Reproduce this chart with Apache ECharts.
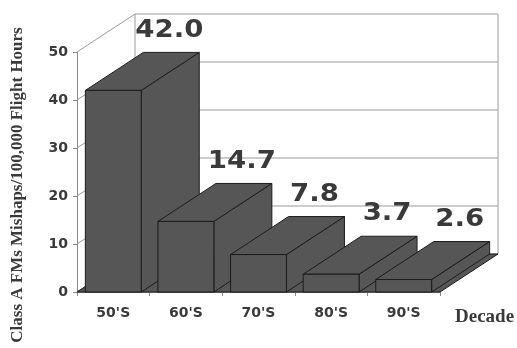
<!DOCTYPE html>
<html>
<head>
<meta charset="utf-8">
<style>
  html, body { margin: 0; padding: 0; background: #ffffff; }
  #chart { width: 517px; height: 348px; }
</style>
<script src="https://cdn.jsdelivr.net/npm/echarts@6/dist/echarts.min.js"></script>
</head>
<body>
<div id="chart"></div>
<script>
// Class A FM mishap rate per decade
const decades = ["50'S", "60'S", "70'S", "80'S", "90'S"];
const mishapRates = [42.0, 14.7, 7.8, 3.7, 2.6];
const rateTicks = [0, 10, 20, 30, 40, 50];

// Pseudo-3D depth offset (pixels) and styling
const DEPTH_X = 58;
const DEPTH_Y = -38;
const BAR_RATIO = 0.77;
const BAR_FILL = '#565656';
const EDGE = '#1c1c1c';
const WALL_LINE = '#9a9a9a';

const chart = echarts.init(document.getElementById('chart'), null, { renderer: 'canvas' });

// Back wall, side wall and floor of the box, placed with the axis scales
function renderWalls(params, api) {
  const band = api.size([1, 0])[0];
  const n = decades.length;
  const xL = api.coord([0, 0])[0] - band / 2;
  const xR = api.coord([n - 1, 0])[0] + band / 2;
  const yMax = rateTicks[rateTicks.length - 1];
  const yBase = api.coord([0, 0])[1];
  const yTop = api.coord([0, yMax])[1];
  const children = [];

  // back wall
  children.push({
    type: 'rect',
    shape: { x: xL + DEPTH_X, y: yTop + DEPTH_Y, width: xR - xL, height: yBase - yTop },
    style: { fill: '#ffffff', stroke: WALL_LINE, lineWidth: 1 }
  });
  // gridlines on back wall and side wall
  rateTicks.forEach(function (t) {
    const y = api.coord([0, t])[1];
    if (t > 0 && t < yMax) {
      children.push({
        type: 'line',
        shape: { x1: xL + DEPTH_X, y1: y + DEPTH_Y, x2: xR + DEPTH_X, y2: y + DEPTH_Y },
        style: { stroke: WALL_LINE, lineWidth: 1 }
      });
    }
    children.push({
      type: 'line',
      shape: { x1: xL, y1: y, x2: xL + DEPTH_X, y2: y + DEPTH_Y },
      style: { stroke: WALL_LINE, lineWidth: 1 }
    });
  });
  // floor
  children.push({
    type: 'polygon',
    shape: { points: [[xL, yBase], [xR, yBase], [xR + DEPTH_X, yBase + DEPTH_Y], [xL + DEPTH_X, yBase + DEPTH_Y]] },
    style: { fill: BAR_FILL, stroke: EDGE, lineWidth: 1 }
  });
  return { type: 'group', children: children };
}

// One box-shaped bar per decade with its value label
function renderBar(params, api) {
  const idx = api.value(0);
  const val = api.value(1);
  const base = api.coord([idx, 0]);
  const top = api.coord([idx, val]);
  const band = api.size([1, 0])[0];
  const w = band * BAR_RATIO;
  const x0 = base[0] - w / 2;
  const x1 = x0 + w;
  const y0 = base[1];
  const y1 = top[1];
  const edgeStyle = { fill: BAR_FILL, stroke: EDGE, lineWidth: 1 };
  return {
    type: 'group',
    children: [
      {
        type: 'polygon',
        shape: { points: [[x1, y1], [x1 + DEPTH_X, y1 + DEPTH_Y], [x1 + DEPTH_X, y0 + DEPTH_Y], [x1, y0]] },
        style: edgeStyle
      },
      {
        type: 'polygon',
        shape: { points: [[x0, y1], [x1, y1], [x1 + DEPTH_X, y1 + DEPTH_Y], [x0 + DEPTH_X, y1 + DEPTH_Y]] },
        style: edgeStyle
      },
      {
        type: 'rect',
        shape: { x: x0, y: y1, width: w, height: y0 - y1 },
        style: edgeStyle
      },
      {
        type: 'text',
        x: x0 + w / 2 + DEPTH_X - 2,
        y: y1 + DEPTH_Y - 22,
        scaleX: 1.15,
        style: {
          text: val.toFixed(1),
          font: 'bold 24px "DejaVu Sans"',
          fill: '#3a3a3a',
          textAlign: 'center',
          textVerticalAlign: 'middle'
        }
      }
    ]
  };
}

const labelStyle = {
  fontFamily: 'DejaVu Sans',
  fontWeight: 'bold',
  fontSize: 14,
  color: '#3a3a3a'
};

chart.setOption({
  animation: false,
  backgroundColor: '#ffffff',
  grid: { left: 77, right: 77, top: 52, bottom: 56 },
  xAxis: {
    type: 'category',
    data: decades,
    boundaryGap: true,
    axisLine: { lineStyle: { color: '#8a8a8a', width: 1 } },
    axisTick: { show: true, length: 4, lineStyle: { color: '#8a8a8a' } },
    axisLabel: Object.assign({ margin: 14 }, labelStyle),
    splitLine: { show: false }
  },
  yAxis: {
    type: 'value',
    min: rateTicks[0],
    max: rateTicks[rateTicks.length - 1],
    interval: 10,
    axisLine: { show: true, lineStyle: { color: '#8a8a8a', width: 1 } },
    axisTick: { show: true, length: 4, lineStyle: { color: '#8a8a8a' } },
    axisLabel: Object.assign({ margin: 9 }, labelStyle),
    splitLine: { show: false }
  },
  graphic: [
    {
      type: 'text',
      x: 18,
      y: 185,
      rotation: Math.PI / 2,
      style: {
        text: 'Class A FMs Mishaps/100,000 Flight Hours',
        font: 'bold 17px "Liberation Serif"',
        fill: '#3a3a3a',
        textAlign: 'center',
        textVerticalAlign: 'middle'
      }
    },
    {
      type: 'text',
      x: 455,
      y: 317,
      style: {
        text: 'Decade',
        font: 'bold 19px "Liberation Serif"',
        fill: '#3a3a3a',
        textAlign: 'left',
        textVerticalAlign: 'middle'
      }
    }
  ],
  series: [
    {
      type: 'custom',
      name: 'box',
      renderItem: renderWalls,
      data: [[0, 0]],
      z: 1,
      silent: true
    },
    {
      type: 'custom',
      name: 'rate',
      renderItem: renderBar,
      data: mishapRates.map(function (v, i) { return [i, v]; }),
      encode: { x: 0, y: 1 },
      z: 2
    }
  ]
});
</script>
</body>
</html>
